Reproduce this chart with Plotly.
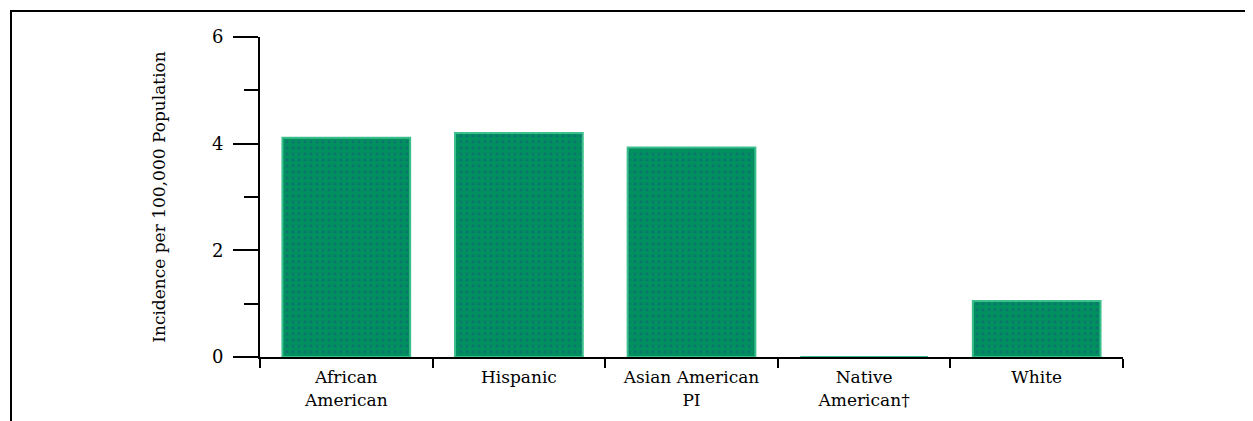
import plotly.graph_objects as go

categories = ["African<br>American", "Hispanic", "Asian American<br>PI", "Native<br>American\u2020", "White"]
values = [4.11, 4.2, 3.93, 0.0, 1.05]
y_ticks = [0, 2, 4, 6]
y_title = "Incidence per 100,000 Population"

# page body has an 8px margin; work in screen pixels and convert
OFF = 8
SW, SH = 1253, 421
W, H = SW - OFF, SH - OFF
PL, PR, PT, PB = 260, 1123, 37, 357  # plot area in screen pixels
L, T = PL - OFF, PT - OFF
R, B = SW - PR, SH - PB
pw, ph = PR - PL, PB - PT

def px_x(p):
    return (p - PL) / pw

def px_y(p):
    return (PB - p) / ph

serif = "DejaVu Serif, Liberation Serif, serif"

fig = go.Figure()
fig.add_trace(go.Bar(
    x=categories, y=values, width=0.74,
    marker=dict(
        color="#008f5e",
        line=dict(color="#3cbf8c", width=2),
        pattern=dict(shape=".", fgcolor="#1d5a80", bgcolor="#008f5e", size=6, solidity=0.18),
    ),
    hoverinfo="skip",
))

fig.update_layout(
    width=W, height=H,
    margin=dict(l=L, r=R, t=T, b=B, pad=0),
    paper_bgcolor="white", plot_bgcolor="white",
    showlegend=False,
    font=dict(family=serif, size=15, color="#000"),
    xaxis=dict(
        type="category", showgrid=False, zeroline=False,
        showline=True, linecolor="#000", linewidth=2,
        ticks="outside", tickson="boundaries", ticklen=9, tickwidth=2, tickcolor="#000",
        tickfont=dict(family=serif, size=17, color="#000"),
        ticklabelstandoff=4,
        layer="below traces",
        fixedrange=True,
    ),
    yaxis=dict(
        range=[0, 6], tickvals=y_ticks, showgrid=False, zeroline=False,
        showline=True, linecolor="#000", linewidth=2,
        ticks="outside", ticklen=25, tickwidth=2, tickcolor="#000",
        tickfont=dict(family=serif, size=18, color="#000"),
        ticklabelstandoff=6,
        minor=dict(dtick=1, ticks="outside", ticklen=14, tickwidth=2, tickcolor="#000", showgrid=False),
        title=dict(text=y_title, font=dict(family=serif, size=17, color="#000"), standoff=42),
        fixedrange=True,
    ),
    shapes=[
        dict(type="line", xref="paper", yref="paper", x0=px_x(10), x1=px_x(SW + 2), y0=px_y(11), y1=px_y(11),
             line=dict(color="#000", width=2)),
        dict(type="line", xref="paper", yref="paper", x0=px_x(11), x1=px_x(11), y0=px_y(11), y1=px_y(SH + 2),
             line=dict(color="#000", width=2)),
    ],
)

fig.write_html("out.html")
